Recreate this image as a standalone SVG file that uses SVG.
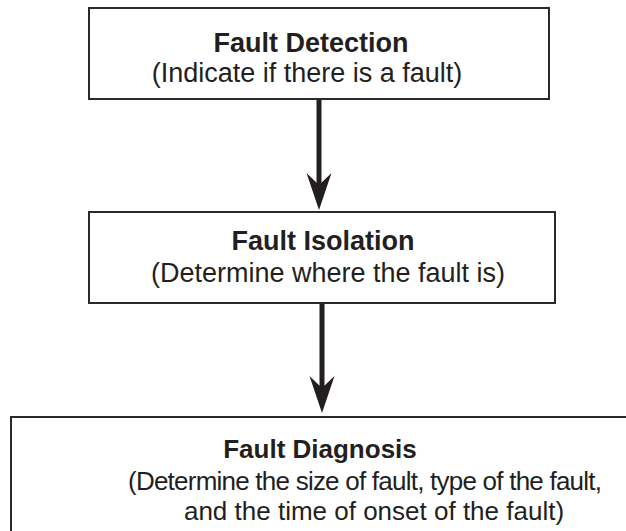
<svg xmlns="http://www.w3.org/2000/svg" width="626" height="531" viewBox="0 0 626 531">
  <style>
    .box { fill: #ffffff; stroke: #2a2a2a; stroke-width: 2; }
    .title { font-family: "Liberation Sans", Arial, sans-serif; font-weight: bold; font-size: 27px; fill: #231f20; text-anchor: middle; }
    .sub { font-family: "Liberation Sans", Arial, sans-serif; font-size: 27px; fill: #231f20; text-anchor: middle; }
    .small { font-size: 26px; }
    .link { stroke: #231f20; stroke-width: 5; fill: none; marker-end: url(#barb); }
  </style>
  <defs>
    <!-- barbed arrowhead: tip 20px past the line end, notch 5px behind it -->
    <marker id="barb" markerUnits="userSpaceOnUse" viewBox="-18 -13 39 26" markerWidth="39" markerHeight="26" refX="0" refY="0" orient="auto" overflow="visible">
      <path d="M20,0 L-17,-12.5 L-5,0 L-17,12.5 Z" fill="#231f20"/>
    </marker>
  </defs>
  <rect width="626" height="531" fill="#ffffff"/>

  <g id="connectors">
    <line class="link" x1="319" y1="100" x2="319" y2="190"/>
    <line class="link" x1="322" y1="303" x2="322" y2="393"/>
  </g>

  <g id="fault-detection">
    <rect class="box" x="89" y="8" width="460" height="91"/>
    <text class="title" x="311" y="52">Fault Detection</text>
    <text class="sub" x="307" y="82">(Indicate if there is a fault)</text>
  </g>

  <g id="fault-isolation">
    <rect class="box" x="89" y="212" width="466" height="91"/>
    <text class="title" x="323" y="250">Fault Isolation</text>
    <text class="sub" x="328" y="282">(Determine where the fault is)</text>
  </g>

  <g id="fault-diagnosis">
    <rect class="box" x="11" y="417" width="640" height="130"/>
    <text class="title small" x="320" y="458">Fault Diagnosis</text>
    <text class="sub small" x="365" y="490" textLength="474">(Determine the size of fault, type of the fault,</text>
    <text class="sub small" x="374" y="520">and the time of onset of the fault)</text>
  </g>
</svg>
